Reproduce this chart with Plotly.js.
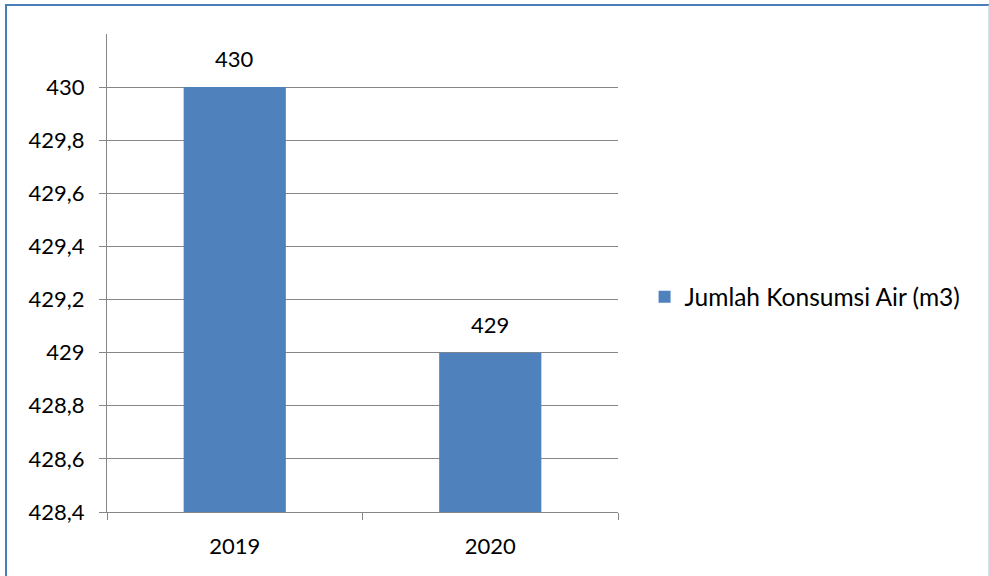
<!DOCTYPE html>
<html>
<head>
<meta charset="utf-8">
<script src="https://cdn.plot.ly/plotly-3.0.1.min.js"></script>
<style>
body{margin:0;padding:0;background:#fff;}
#chart{width:989px;height:576px;position:absolute;left:0;top:0;}
#frame{position:absolute;left:5px;top:4px;width:981px;height:580px;border-top:2px solid #4a7ebb;border-left:2px solid #4a7ebb;border-right:2px solid #d6e2f0;pointer-events:none;}
</style>
</head>
<body>
<div id="chart"></div>
<div id="frame"></div>
<script>
const categories = ["2019", "2020"];
const seriesName = "Jumlah Konsumsi Air (m3)";
const values = [430, 429];
const tickVals = [428.4, 428.6, 428.8, 429, 429.2, 429.4, 429.6, 429.8, 430];
const tickText = ["428,4", "428,6", "428,8", "429", "429,2", "429,4", "429,6", "429,8", "430"];

const font = {family: "Lato, 'Open Sans', sans-serif", size: 22, color: "#000"};

const labels = categories.map((c, i) => ({
  x: i, y: values[i], text: String(values[i]),
  xref: "x", yref: "y",
  showarrow: false, yanchor: "bottom", yshift: 13, font: font
}));

Plotly.newPlot("chart", [{
  type: "bar",
  x: categories,
  y: values,
  name: seriesName,
  marker: {color: "#4f81bd"},
  showlegend: true
}], {
  width: 989, height: 576,
  margin: {l: 107, r: 371, t: 34, b: 64},
  paper_bgcolor: "#fff", plot_bgcolor: "#fff",
  bargap: 0.6,
  font: font,
  showlegend: true,
  annotations: labels,
  legend: {x: 1.052, y: 0.45, xanchor: "left", yanchor: "middle", font: {family: font.family, size: 24.5, color: "#000"}, bgcolor: "rgba(0,0,0,0)"},
  xaxis: {
    type: "category",
    categoryarray: categories,
    range: [-0.5, categories.length - 0.5],
    tickson: "boundaries",
    ticks: "outside", ticklen: 7, tickcolor: "#868686", tickwidth: 1,
    showline: true, linecolor: "#868686", linewidth: 1,
    showgrid: false, zeroline: false,
    tickangle: 0,
    ticklabelstandoff: 15,
    tickfont: font
  },
  yaxis: {
    range: [428.4, 430.2],
    tickvals: tickVals, ticktext: tickText,
    ticks: "outside", ticklen: 7, tickcolor: "#868686", tickwidth: 1,
    showline: true, linecolor: "#868686", linewidth: 1,
    showgrid: true, gridcolor: "#868686", gridwidth: 1,
    zeroline: false,
    ticklabelstandoff: 10,
    tickfont: font
  }
}, {staticPlot: true, displayModeBar: false});
</script>
</body>
</html>
